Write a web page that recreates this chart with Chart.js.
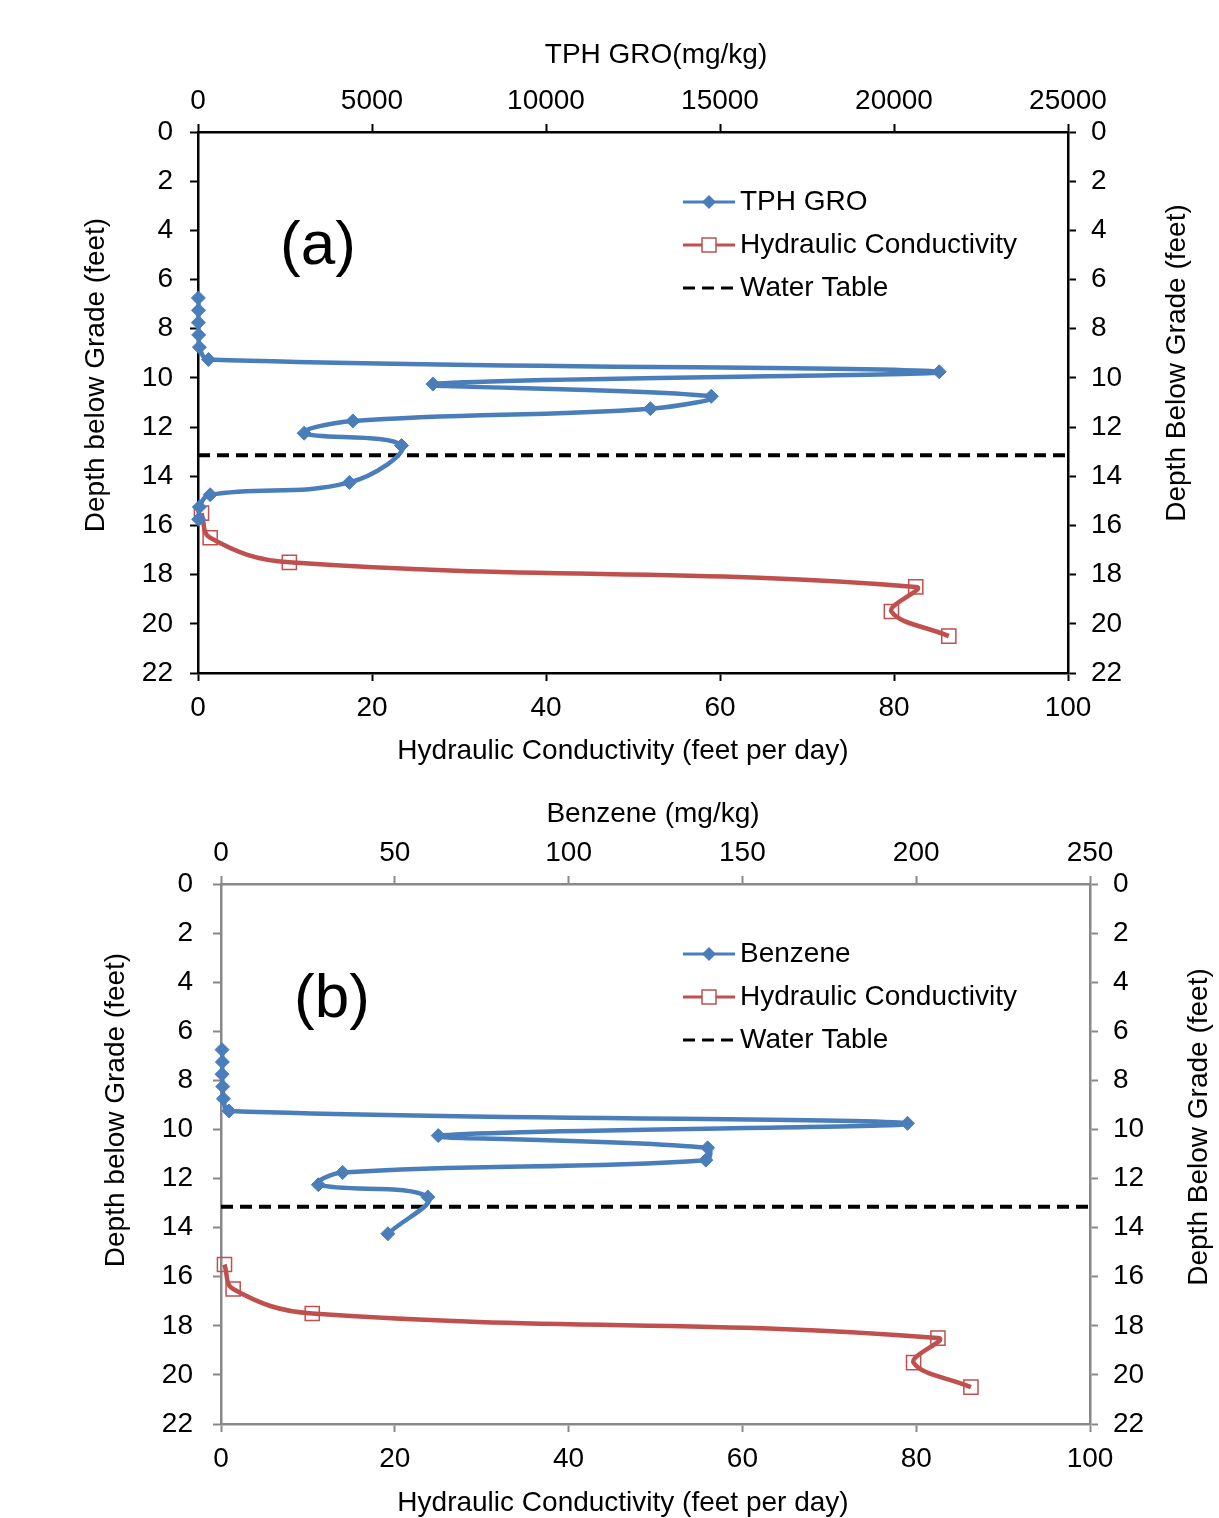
<!DOCTYPE html>
<html>
<head>
<meta charset="utf-8">
<script src="https://cdn.jsdelivr.net/npm/chart.js@4.4.1/dist/chart.umd.min.js"></script>
<style>
  body { margin: 0; background: #fff; }
  #wrap { width: 1219px; height: 1518px; }
  canvas { display: block; }
</style>
</head>
<body>
<div id="wrap">
  <canvas id="chart-a" width="1219" height="770"></canvas>
  <canvas id="chart-b" width="1219" height="748"></canvas>
</div>
<script>
// depths in feet below grade
var tphDepth = [6.75, 7.25, 7.75, 8.25, 8.75, 9.25, 9.75, 10.25, 10.75, 11.25, 11.75, 12.25, 12.75, 14.25, 14.75, 15.25, 15.75];
var tphGro = [10, 15, 10, 20, 40, 300, 21300, 6750, 14750, 13000, 4450, 3050, 5850, 4350, 350, 40, 20];

var benzeneDepth = [6.75, 7.25, 7.75, 8.25, 8.75, 9.25, 9.75, 10.25, 10.75, 11.25, 11.75, 12.25, 12.75, 14.25];
var benzene = [0.3, 0.4, 0.3, 0.5, 0.7, 2.3, 197.5, 62.5, 140, 139.5, 35, 28, 59.5, 48];

var hcDepth = [15.5, 16.5, 17.5, 18.5, 19.5, 20.5];
var hydCond = [0.4, 1.4, 10.5, 82.5, 79.7, 86.3];

var waterTableDepth = 13.15;
var hcRange = [0, 100];

var FONT = '"Liberation Sans", Arial, sans-serif';
Chart.defaults.font.family = FONT;
Chart.defaults.font.size = 28;
Chart.defaults.color = '#000';

function pts(xs, ys) {
  return xs.map(function (v, i) { return { x: v, y: ys[i] }; });
}

var decor = {
  id: 'decor',
  afterDraw: function (chart, args, o) {
    var ctx = chart.ctx;
    ctx.save();
    ctx.fillStyle = '#000';
    ctx.textBaseline = 'middle';
    o.titles.forEach(function (t) {
      ctx.save();
      ctx.translate(t.x, t.y);
      if (t.rot) ctx.rotate(-Math.PI / 2);
      ctx.font = '28px ' + FONT;
      ctx.textAlign = 'center';
      ctx.fillText(t.text, 0, 0);
      ctx.restore();
    });
    ctx.font = '62px ' + FONT;
    ctx.textAlign = 'center';
    ctx.fillText(o.tag.text, o.tag.x, o.tag.y);

    // legend
    ctx.font = '28px ' + FONT;
    ctx.textAlign = 'left';
    chart.data.datasets.forEach(function (ds, i) {
      var y = o.legend.y + i * o.legend.gap;
      var x0 = o.legend.x, x1 = x0 + 52, xm = x0 + 26;
      ctx.save();
      ctx.strokeStyle = ds.borderColor;
      ctx.lineWidth = 3;
      ctx.setLineDash(ds.borderDash || []);
      ctx.beginPath();
      ctx.moveTo(x0, y);
      ctx.lineTo(x1, y);
      ctx.stroke();
      ctx.setLineDash([]);
      if (ds.pointStyle === 'rectRot') {
        ctx.fillStyle = ds.pointBackgroundColor;
        ctx.beginPath();
        ctx.moveTo(xm - 7, y); ctx.lineTo(xm, y - 7); ctx.lineTo(xm + 7, y); ctx.lineTo(xm, y + 7);
        ctx.closePath();
        ctx.fill();
      } else if (ds.pointStyle === 'rect') {
        ctx.fillStyle = '#fff';
        ctx.strokeStyle = ds.pointBorderColor;
        ctx.lineWidth = 1.5;
        ctx.fillRect(xm - 7, y - 7, 14, 14);
        ctx.strokeRect(xm - 7, y - 7, 14, 14);
      }
      ctx.restore();
      ctx.fillText(ds.label, x1 + 5, y);
    });
    ctx.restore();
  }
};

function axis(pos, min, max, step, size, pad, col, rev) {
  var horiz = pos === 'top' || pos === 'bottom';
  return {
    type: 'linear', position: pos, min: min, max: max, reverse: !!rev,
    ticks: { stepSize: step, padding: pad, color: '#000', maxRotation: 0, autoSkip: false,
      callback: function (v) { return String(v); } },
    grid: { drawOnChartArea: false, drawTicks: true, tickLength: 8, tickWidth: 2, tickColor: col },
    border: { display: true, color: col, width: 2.5 },
    afterFit: function (s) { if (horiz) s.height = size; else s.width = size; }
  };
}

function makePanel(id, p) {
  var col = p.axisColor;
  return new Chart(document.getElementById(id), {
    type: 'scatter',
    data: {
      datasets: [
        {
          label: p.name, data: pts(p.conc, p.depth), xAxisID: 'xTop', yAxisID: 'y',
          showLine: true, tension: 0.4, borderColor: '#4a7ebb', borderWidth: 4.5,
          pointStyle: 'rectRot', pointRadius: 7, pointBackgroundColor: '#4a7ebb',
          pointBorderColor: '#4a7ebb', pointBorderWidth: 1, clip: false
        },
        {
          label: 'Hydraulic Conductivity', data: pts(hydCond, hcDepth), xAxisID: 'x', yAxisID: 'y',
          showLine: true, tension: 0.4, borderColor: '#c0504d', borderWidth: 4.5,
          pointStyle: 'rect', pointRadius: 10, pointBackgroundColor: 'rgba(255,255,255,0)',
          pointBorderColor: '#c0504d', pointBorderWidth: 1.5, clip: false
        },
        {
          label: 'Water Table', data: pts(hcRange, [waterTableDepth, waterTableDepth]), xAxisID: 'x', yAxisID: 'y',
          showLine: true, borderColor: '#000', borderWidth: 4, borderDash: [12, 7],
          pointRadius: 0, clip: false
        }
      ]
    },
    options: {
      responsive: false,
      animation: false,
      layout: { padding: 0 },
      scales: {
        xTop: axis('top', 0, p.concMax, p.concMax / 5, p.box[0], 6, col),
        x: axis('bottom', 0, 100, 20, p.box[2], 10, col),
        y: axis('left', 0, 22, 2, p.box[3], p.leftPad, col, true),
        y2: axis('right', 0, 22, 2, p.box[1], 15, col, true)
      },
      plugins: {
        legend: { display: false },
        tooltip: { enabled: false },
        decor: p.decor
      }
    },
    plugins: [decor]
  });
}

makePanel('chart-a', {
  name: 'TPH GRO', conc: tphGro, depth: tphDepth, concMax: 25000,
  axisColor: '#000', box: [132, 151, 97, 198], leftPad: 17,
  decor: {
    titles: [
      { text: 'TPH GRO(mg/kg)', x: 656, y: 55 },
      { text: 'Hydraulic Conductivity (feet per day)', x: 623, y: 751 },
      { text: 'Depth below Grade (feet)', x: 96, y: 375, rot: true },
      { text: 'Depth Below Grade (feet)', x: 1177, y: 363, rot: true }
    ],
    tag: { text: '(a)', x: 318, y: 247 },
    legend: { x: 683, y: 202, gap: 43 }
  }
});

makePanel('chart-b', {
  name: 'Benzene', conc: benzene, depth: benzeneDepth, concMax: 250,
  axisColor: '#888888', box: [114, 129, 94, 221], leftPad: 20,
  decor: {
    titles: [
      { text: 'Benzene (mg/kg)', x: 653, y: 44 },
      { text: 'Hydraulic Conductivity (feet per day)', x: 623, y: 733 },
      { text: 'Depth below Grade (feet)', x: 116, y: 340, rot: true },
      { text: 'Depth Below Grade (feet)', x: 1199, y: 357, rot: true }
    ],
    tag: { text: '(b)', x: 332, y: 230 },
    legend: { x: 683, y: 184, gap: 43 }
  }
});
</script>
</body>
</html>
